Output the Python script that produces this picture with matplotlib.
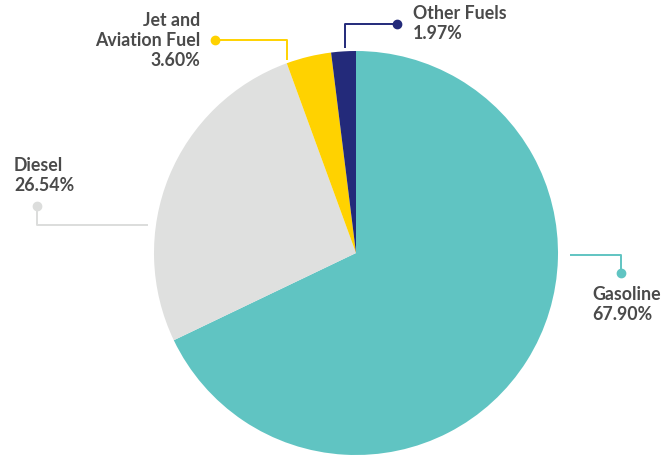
import matplotlib
matplotlib.use("Agg")
import matplotlib.pyplot as plt

labels = ["Gasoline", "Diesel", "Jet and\nAviation Fuel", "Other Fuels"]
shares = [67.90, 26.54, 3.60, 1.97]
colors = ["#60C4C2", "#DFE0DF", "#FFD200", "#232A7A"]

W, H = 663, 457
fig = plt.figure(figsize=(W / 100, H / 100), dpi=100)
ax = fig.add_axes([0, 0, 1, 1])

cx, cy, r = 356, H - 253, 202
ax.pie(shares, colors=colors, startangle=90, counterclock=False,
       center=(cx, cy), radius=r, frame=True,
       wedgeprops=dict(linewidth=0))
ax.set_xlim(0, W)
ax.set_ylim(0, H)
ax.set_aspect("equal")
ax.axis("off")

txt = dict(fontfamily="Lato", fontweight="bold", fontsize=12.8,
           color="#4A4A4A", linespacing=1.2)


def leader(xs, ys, color):
    ys = [H - y for y in ys]
    ax.plot(xs, ys, color=color, lw=1.4, solid_capstyle="butt", zorder=3)
    ax.plot(xs[-1], ys[-1], "o", color=color, ms=6, zorder=4)


def label(i, x, y, ha):
    ax.text(x, H - y, f"{labels[i]}\n{shares[i]:.2f}%", ha=ha, va="top",
            multialignment=ha, **txt)


# Gasoline
leader([570, 621, 621], [255, 255, 273], colors[0])
label(0, 592, 286, "left")
# Diesel
leader([148, 37, 37], [225, 225, 206], "#DCDDDC")
label(1, 14, 157, "left")
# Jet and aviation fuel
leader([287, 287, 215], [60, 40, 40], colors[2])
label(2, 200, 12, "right")
# Other fuels
leader([345, 345, 397], [48, 24, 24], colors[3])
label(3, 413, 5, "left")

fig.savefig("out.png", dpi=100)
